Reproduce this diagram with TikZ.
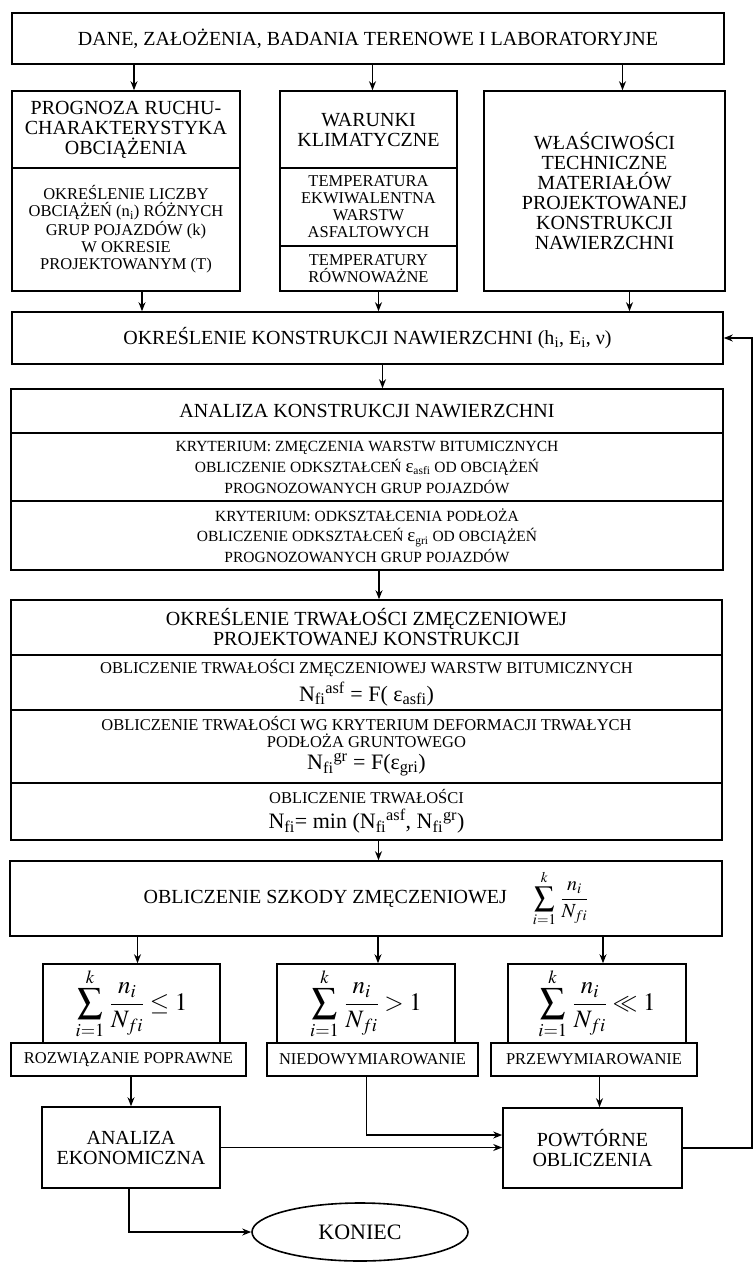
\documentclass[tikz,border=0pt]{standalone}
\usepackage{mathptmx}
\usepackage{fontspec}
\setmainfont{Liberation Serif}
\usetikzlibrary{arrows.meta,shapes.geometric}

\newcommand{\bigtxt}{\fontsize{20}{20}\selectfont}
\newcommand{\smalltxt}{\fontsize{16.5}{17}\selectfont}
\newcommand{\formtxt}{\fontsize{22}{22}\selectfont}
\newcommand{\Nfi}{N\textsubscript{fi}}
\newcommand{\damage}{\displaystyle\sum_{i=1}^{k}\,\frac{n_i}{N_{fi}}}

\tikzset{
	box/.style={draw, line width=1.6pt, align=center, inner sep=0pt, font=\bigtxt},
	smallbox/.style={box, font=\smalltxt},
	sumbox/.style={box, font=\fontsize{25}{25}\selectfont},
	flow/.style={->, line width=1.3pt}
}

\begin{document}
\begin{tikzpicture}[x=1pt,y=-1pt,>={Stealth[length=9pt,width=7pt]}]
	\useasboundingbox (0,0) rectangle (753,1263);

	\node[box,minimum width=712pt,minimum height=51pt] (dane) at (368,38.5) {DANE, ZAŁOŻENIA, BADANIA TERENOWE I LABORATORYJNE};

	% three input columns
	\node[box,minimum width=228pt,minimum height=77pt] (prog) at (126,129.5) {PROGNOZA RUCHU-\\CHARAKTERYSTYKA\\OBCIĄŻENIA};
	\node[smallbox,minimum width=228pt,minimum height=123pt] (progB) at (126,229.5) {OKREŚLENIE LICZBY\\OBCIĄŻEŃ (n\textsubscript{i}) RÓŻNYCH\\GRUP POJAZDÓW (k)\\W OKRESIE\\PROJEKTOWANYM (T)};
	\node[box,minimum width=177pt,minimum height=77pt] (war) at (368.5,129.5) {WARUNKI\\KLIMATYCZNE};
	\node[smallbox,minimum width=177pt,minimum height=78pt] (tempA) at (368.5,207) {TEMPERATURA\\EKWIWALENTNA\\WARSTW\\ASFALTOWYCH};
	\node[smallbox,minimum width=177pt,minimum height=45pt] (tempB) at (368.5,268.5) {TEMPERATURY\\RÓWNOWAŻNE};
	\node[box,minimum width=241pt,minimum height=200pt] (wlasc) at (604.5,191) {WŁAŚCIWOŚCI\\TECHNICZNE\\MATERIAŁÓW\\PROJEKTOWANEJ\\KONSTRUKCJI\\NAWIERZCHNI};

	\node[box,minimum width=711pt,minimum height=52pt] (okr) at (367.5,338) {OKREŚLENIE KONSTRUKCJI NAWIERZCHNI (h\textsubscript{i}, E\textsubscript{i}, ν)};

	% analysis block
	\node[box,minimum width=712pt,minimum height=44pt] (ana) at (367,411) {ANALIZA KONSTRUKCJI NAWIERZCHNI};
	\node[box,font=\fontsize{15.5}{21}\selectfont,minimum width=712pt,minimum height=68pt] (krytA) at (367,467) {KRYTERIUM: ZMĘCZENIA WARSTW BITUMICZNYCH\\OBLICZENIE ODKSZTAŁCEŃ {\fontsize{19}{19}\selectfont ε}\textsubscript{asfi} OD OBCIĄŻEŃ\\PROGNOZOWANYCH GRUP POJAZDÓW};
	\node[box,font=\fontsize{15.5}{20.5}\selectfont,minimum width=712pt,minimum height=69pt] (krytB) at (367,535.5) {KRYTERIUM: ODKSZTAŁCENIA PODŁOŻA\\OBLICZENIE ODKSZTAŁCEŃ {\fontsize{19}{19}\selectfont ε}\textsubscript{gri} OD OBCIĄŻEŃ\\PROGNOZOWANYCH GRUP POJAZDÓW};

	% fatigue life block
	\node[box,minimum width=711pt,minimum height=55pt] (trw) at (366.5,627.5) {OKREŚLENIE TRWAŁOŚCI ZMĘCZENIOWEJ\\PROJEKTOWANEJ KONSTRUKCJI};
	\node[smallbox,minimum width=711pt,minimum height=55pt] (trwA) at (366.5,682.5) {OBLICZENIE TRWAŁOŚCI ZMĘCZENIOWEJ WARSTW BITUMICZNYCH\\[4pt]{\formtxt \Nfi\textsuperscript{asf} = F( ε\textsubscript{asfi})}};
	\node[smallbox,minimum width=711pt,minimum height=73pt] (trwB) at (366.5,746.5) {OBLICZENIE TRWAŁOŚCI WG KRYTERIUM DEFORMACJI TRWAŁYCH\\PODŁOŻA GRUNTOWEGO\\[5pt]{\formtxt \Nfi\textsuperscript{gr} = F(ε\textsubscript{gri})}};
	\node[smallbox,minimum width=711pt,minimum height=57pt] (trwC) at (366.5,811.5) {OBLICZENIE TRWAŁOŚCI\\[4pt]{\formtxt \Nfi= min (\Nfi\textsuperscript{asf}, \Nfi\textsuperscript{gr})}};

	\node[box,minimum width=712pt,minimum height=75pt] (szk) at (366,898.5) {OBLICZENIE SZKODY ZMĘCZENIOWEJ\hspace{26pt}$\damage$};

	% three outcomes
	\node[sumbox,minimum width=177pt,minimum height=79pt] (sA) at (131.5,1003.5) {$\damage\le 1$};
	\node[sumbox,minimum width=178pt,minimum height=79pt] (sB) at (366,1003.5) {$\damage> 1$};
	\node[sumbox,minimum width=178pt,minimum height=79pt] (sC) at (597,1003.5) {$\damage\ll 1$};
	\node[smallbox,minimum width=235pt,minimum height=33pt] (lA) at (128.5,1059.5) {ROZWIĄZANIE POPRAWNE};
	\node[smallbox,minimum width=211pt,minimum height=33pt] (lB) at (372.5,1059.5) {NIEDOWYMIAROWANIE};
	\node[smallbox,minimum width=206pt,minimum height=33pt] (lC) at (594,1059.5) {PRZEWYMIAROWANIE};

	\node[box,minimum width=178pt,minimum height=81pt] (ekon) at (131,1147.5) {ANALIZA\\EKONOMICZNA};
	\node[box,minimum width=179pt,minimum height=80pt] (powt) at (592.5,1148) {POWTÓRNE\\OBLICZENIA};
	\node[box,ellipse,font=\formtxt,minimum width=216pt,minimum height=58pt] (koniec) at (360,1232) {KONIEC};

	% arrows
	\draw[flow] ([xshift=8pt]prog.north |- dane.south) -- ([xshift=8pt]prog.north);
	\draw[flow] ([xshift=4pt]war.north |- dane.south) -- ([xshift=4pt]war.north);
	\draw[flow] ([xshift=18pt]wlasc.north |- dane.south) -- ([xshift=18pt]wlasc.north);
	\draw[flow] ([xshift=16pt]progB.south) -- ([xshift=16pt]progB.south |- okr.north);
	\draw[flow] ([xshift=10pt]tempB.south) -- ([xshift=10pt]tempB.south |- okr.north);
	\draw[flow] ([xshift=25pt]wlasc.south) -- ([xshift=25pt]wlasc.south |- okr.north);
	\draw[flow] ([xshift=15pt]okr.south) -- ([xshift=15pt]okr.south |- ana.north);
	\draw[flow] ([xshift=12pt]krytB.south) -- ([xshift=12pt]krytB.south |- trw.north);
	\draw[flow] ([xshift=12pt]trwC.south) -- ([xshift=12pt]trwC.south |- szk.north);
	\draw[flow] ([xshift=6pt]sA.north |- szk.south) -- ([xshift=6pt]sA.north);
	\draw[flow] ([xshift=12pt]sB.north |- szk.south) -- ([xshift=12pt]sB.north);
	\draw[flow] ([xshift=6pt]sC.north |- szk.south) -- ([xshift=6pt]sC.north);
	\draw[flow] (ekon.north |- lA.south) -- (ekon.north);
	\draw[flow] ([xshift=7pt]powt.north |- lC.south) -- ([xshift=7pt]powt.north);
	\draw[flow] ([xshift=-6pt]lB.south) |- ([yshift=13pt]powt.west);
	\draw[flow] (ekon.east) -- (ekon.east -| powt.west);
	\draw[flow] ([xshift=-2pt]ekon.south) |- (koniec.west);
	\coordinate (edge) at (752,338);% feedback runs along the right edge
	\draw[flow] (powt.east) -| (edge) -- (okr.east);
\end{tikzpicture}
\end{document}
